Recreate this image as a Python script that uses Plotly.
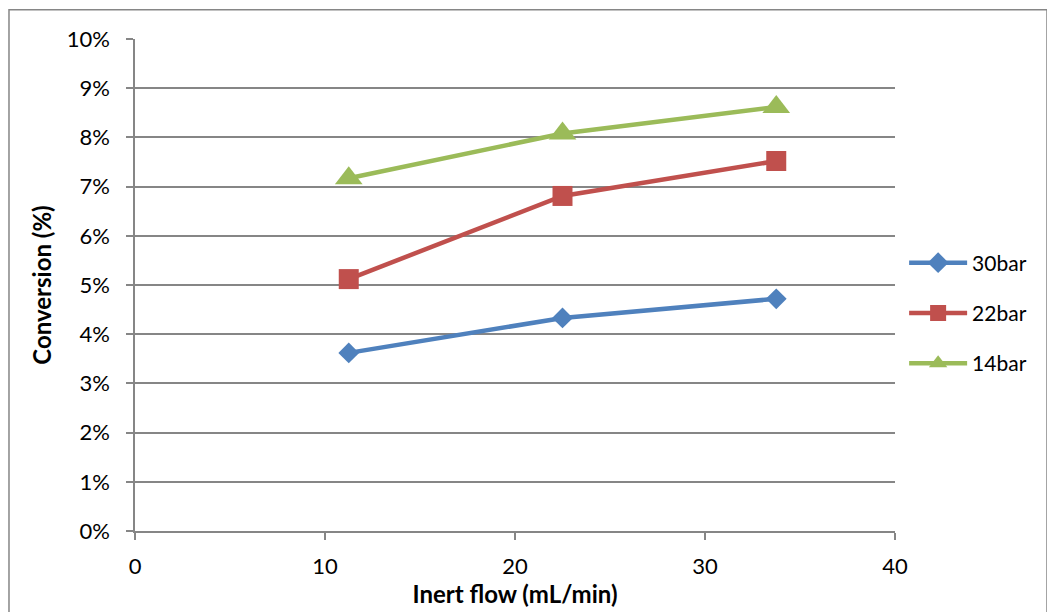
import plotly.graph_objects as go

# Inert flow rates (mL/min)
flow = [11.25, 22.5, 33.75]

# Conversion (%) at each reactor pressure
conv_30bar = [3.62, 4.33, 4.72]
conv_22bar = [5.12, 6.81, 7.52]
conv_14bar = [7.17, 8.08, 8.62]

series_names = ["30bar", "22bar", "14bar"]
series_values = [conv_30bar, conv_22bar, conv_14bar]
colors = ["#4F81BD", "#C0504D", "#9BBB59"]
symbols = ["diamond", "square", "triangle-up"]
marker_sizes = [16, 20, 24]

y_ticks = list(range(0, 11))
x_ticks = [0, 10, 20, 30, 40]

FONT = "Lato, Open Sans, sans-serif"
GRID = "#868686"

fig = go.Figure()
for name, vals, col, sym, ms in zip(series_names, series_values, colors, symbols, marker_sizes):
    fig.add_trace(go.Scatter(
        x=flow, y=vals, name=name, mode="lines+markers",
        legendgroup=name,
        line=dict(color=col, width=4.5),
        marker=dict(symbol=sym, size=ms, color=col),
    ))

fig.update_layout(
    width=1047, height=612,
    margin=dict(l=135, r=152, t=39, b=81),
    paper_bgcolor="white", plot_bgcolor="white",
    font=dict(family=FONT, size=22, color="#000000"),
    showlegend=True,
    legend=dict(
        x=1.012, xanchor="left", y=0.443, yanchor="middle",
        font=dict(family=FONT, size=21, color="#000000"),
        itemwidth=58, tracegroupgap=20,
        bgcolor="rgba(0,0,0,0)",
    ),
    xaxis=dict(
        range=[0, 40], tickvals=x_ticks, ticktext=[str(v) for v in x_ticks],
        showgrid=False, zeroline=False,
        showline=True, linecolor=GRID, linewidth=1.5,
        ticks="outside", ticklen=7, tickcolor=GRID, tickwidth=1.5,
        ticklabelstandoff=8,
        tickfont=dict(family=FONT, size=22),
        title=dict(text="<b>Inert flow (mL/min)</b>", font=dict(family=FONT, size=24), standoff=0),
    ),
    yaxis=dict(
        range=[0, 10], tickvals=y_ticks, ticktext=[f"{v}%" for v in y_ticks],
        showgrid=True, gridcolor=GRID, gridwidth=1.7,
        zeroline=False,
        showline=True, linecolor=GRID, linewidth=1.5,
        ticks="outside", ticklen=7, tickcolor=GRID, tickwidth=1.5,
        ticklabelstandoff=12,
        tickfont=dict(family=FONT, size=22),
        title=dict(text="<b>Conversion (%)</b>", font=dict(family=FONT, size=24), standoff=8),
    ),
    # chart frame: only its top and left edges fall inside the page
    shapes=[dict(
        type="rect", xref="paper", yref="paper",
        x0=-0.1658, x1=1.2, y0=-0.2, y1=1.0595,
        line=dict(color="#868686", width=1.5), fillcolor="rgba(0,0,0,0)",
        layer="below",
    )],
)

fig.write_html("out.html")
